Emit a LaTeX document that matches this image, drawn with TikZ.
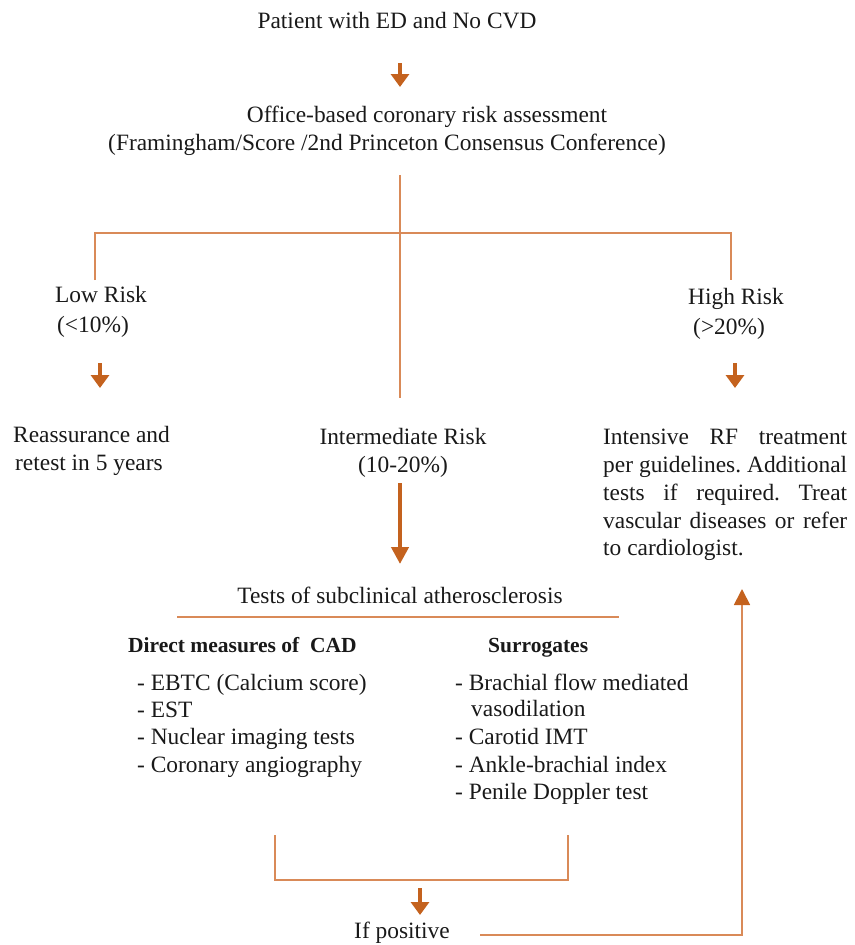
\documentclass[tikz,border=0pt]{standalone}
\usepackage{fontspec}
\setmainfont{Liberation Serif}
\usetikzlibrary{arrows.meta}
\definecolor{arrcol}{HTML}{C4621E}
\definecolor{lncol}{HTML}{D98A58}
\frenchspacing
\tikzset{
  txt/.style={inner sep=0pt, font=\fontsize{23.4}{28}\selectfont, text=black!90},
  bold/.style={txt, font=\fontsize{21.5}{28}\selectfont\bfseries},
  ln/.style={draw=lncol, line width=1.8pt},
  sarr/.style={draw=arrcol, line width=4pt, -{Triangle[width=18pt,length=13pt]}},
  barr/.style={draw=arrcol, line width=4.2pt, -{Triangle[width=17pt,length=17pt]}},
  uarr/.style={draw=lncol, line width=1.8pt, -{Triangle[width=16pt,length=16pt,color=arrcol]}},
}
\newcommand{\jline}[1]{\hbox to 244pt{#1}}
\begin{document}
\begin{tikzpicture}[x=1pt,y=-1pt]
\useasboundingbox (0,0) rectangle (854,945);
% texts
\node[txt, anchor=base] (patient) at (397,28) {Patient with ED and No CVD};
\node[txt, anchor=base] (office1) at (427,122) {Office-based coronary risk assessment};
\node[txt, anchor=base] (office2) at (387,150) {(Framingham/Score /2nd Princeton Consensus Conference)};
\node[txt, anchor=base west] (low1) at (55,302) {Low Risk};
\node[txt, anchor=base west] (low2) at (57,332) {(<10\%)};
\node[txt, anchor=base west] (high1) at (688,304) {High Risk};
\node[txt, anchor=base west] (high2) at (693,334) {(>20\%)};
\node[txt, anchor=base west] (reass1) at (13,442) {Reassurance and};
\node[txt, anchor=base west] (reass2) at (15,470) {retest in 5 years};
\node[txt, anchor=base] (inter1) at (403,444) {Intermediate Risk};
\node[txt, anchor=base] (inter2) at (403,472) {(10-20\%)};
\node[txt, anchor=base west] (hr1) at (603,444) {\jline{Intensive RF treatment}};
\node[txt, anchor=base west] (hr2) at (603,472) {\jline{per guidelines. Additional}};
\node[txt, anchor=base west] (hr3) at (603,500) {\jline{tests if required. Treat}};
\node[txt, anchor=base west] (hr4) at (603,528) {\jline{vascular diseases or refer}};
\node[txt, anchor=base west] (hr5) at (603,555) {to cardiologist.};
\node[txt, anchor=base] (tests) at (400,603) {Tests of subclinical atherosclerosis};
\node[bold, anchor=base west] (direct) at (128,652) {Direct measures of\ \ CAD};
\node[bold, anchor=base west] (surr) at (488,652) {Surrogates};
\node[txt, anchor=base west] (d1) at (137,690) {- EBTC (Calcium score)};
\node[txt, anchor=base west] (d2) at (137,717) {- EST};
\node[txt, anchor=base west] (d3) at (137,744) {- Nuclear imaging tests};
\node[txt, anchor=base west] (d4) at (137,772) {- Coronary angiography};
\node[txt, anchor=base west] (s1) at (455,690) {- Brachial flow mediated};
\node[txt, anchor=base west] (s1b) at (471,716) {vasodilation};
\node[txt, anchor=base west] (s2) at (455,744) {- Carotid IMT};
\node[txt, anchor=base west] (s3) at (455,772) {- Ankle-brachial index};
\node[txt, anchor=base west] (s4) at (455,799) {- Penile Doppler test};
\node[txt, anchor=base] (ifpos) at (402,938) {If positive};
% coordinates
\coordinate (vtop) at (400,175);
\coordinate (vbot) at (400,398);
\coordinate (hbar) at (400,233);
\coordinate (lowtop) at (95,280);
\coordinate (hightop) at (731,280);
\coordinate (tl) at (177,617);
\coordinate (tr) at (619,617);
\coordinate (bl) at (275,835);
\coordinate (bbot) at (568,880);
\coordinate (br) at (568,835);
\coordinate (pl) at (480,935);
\coordinate (pc) at (742,935);
\coordinate (ptip) at (742,589);
\coordinate (a1s) at (400,63);
\coordinate (a1e) at (400,87);
\coordinate (als) at (100,363);
\coordinate (ale) at (100,388);
\coordinate (ahs) at (735,363);
\coordinate (ahe) at (735,388);
\coordinate (abs) at (400,483);
\coordinate (abe) at (400,564);
\coordinate (aps) at (420,888);
\coordinate (ape) at (420,915);
% connectors
\draw[ln] (vtop) -- (vbot);
\draw[ln] (lowtop) |- (hbar) -| (hightop);
\draw[ln] (tl) -- (tr);
\draw[ln] (bl) |- (bbot) -- (br);
\draw[uarr] (pl) -- (pc) -- (ptip);
\draw[sarr] (a1s) -- (a1e);
\draw[sarr] (als) -- (ale);
\draw[sarr] (ahs) -- (ahe);
\draw[barr] (abs) -- (abe);
\draw[sarr] (aps) -- (ape);
\end{tikzpicture}
\end{document}
